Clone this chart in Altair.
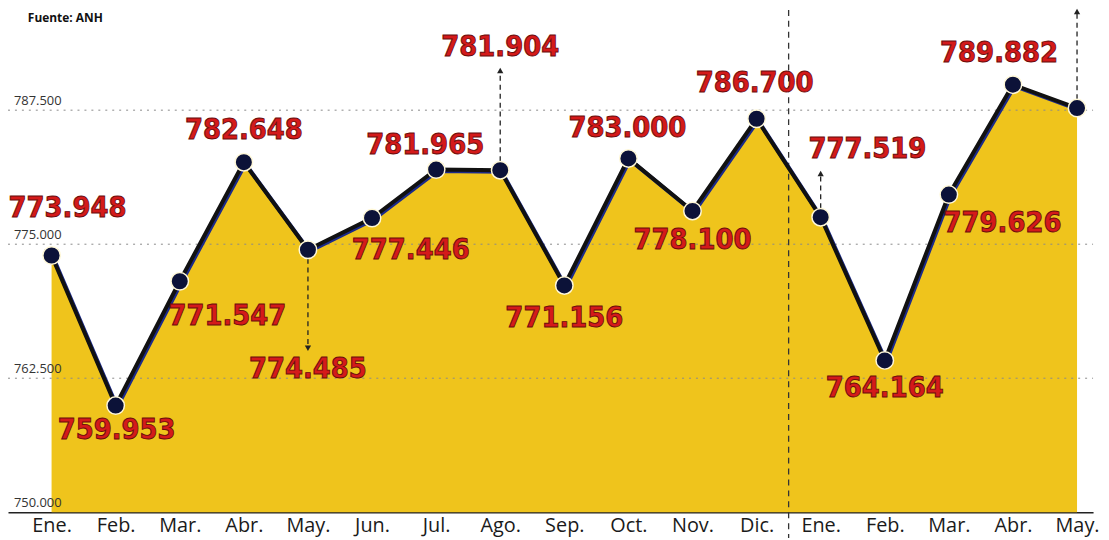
import altair as alt
import pandas as pd

# ---- data ----
months = ["Ene.", "Feb.", "Mar.", "Abr.", "May.", "Jun.", "Jul.", "Ago.", "Sep.",
          "Oct.", "Nov.", "Dic.", "Ene.", "Feb.", "Mar.", "Abr.", "May."]
values = [773948, 759953, 771547, 782648, 774485, 777446, 781965, 781904, 771156,
          783000, 778100, 786700, 777519, 764164, 779626, 789882, 787700]
show_label = [True] * 16 + [False]
grid_values = [750000, 762500, 775000, 787500]

# label placement (pixel offsets from each point)
label_dx = [16, 1, 48, 0, 0, 39, -11, 0, 0, -1, 0, -2, 47, 0, 54, -14, 0]
label_dy = [-48, 25, 35, -32, 120, 32, -25, -124, 33, -31, 29, -36, -69, 28, 29, -32, 0]

# annotation arrows: index, end value
arrow_idx = [4, 7, 12, 16]
arrow_end = [765300, 791200, 781600, 796700]

def fmt(v):
    return f"{v:,}".replace(",", ".")

df = pd.DataFrame({
    "i": list(range(len(values))),
    "mes": months,
    "v": values,
    "lab": [fmt(v) if s else "" for v, s in zip(values, show_label)],
})

grid_df = pd.DataFrame({"g": grid_values, "t": [fmt(g) for g in grid_values]})
arr_df = pd.DataFrame({
    "i": arrow_idx,
    "v0": [values[k] for k in arrow_idx],
    "v1": arrow_end,
    "shape": ["triangle-down" if e < values[k] else "triangle-up" for k, e in zip(arrow_idx, arrow_end)],
})

YMIN, YMAX = 750000, 796850
xscale = alt.Scale(domain=[-0.68, 16.25], nice=False, zero=False)
yscale = alt.Scale(domain=[YMIN, YMAX], nice=False, zero=False)

label_expr = "[" + ",".join(f"'{m}'" for m in months) + "][datum.value]"

X = alt.X("i:Q", scale=xscale,
          axis=alt.Axis(values=list(range(len(months))), labelExpr=label_expr,
                        title=None, ticks=False, grid=False, labelFontSize=20,
                        labelFont="Open Sans", labelColor="#1a1a1a", labelPadding=3,
                        domainColor="#222", domainWidth=1.5, labelFlush=False))
Y = alt.Y("v:Q", scale=yscale, axis=None)

base = alt.Chart(df)

area = base.mark_area(color="#efc41c", opacity=1).encode(
    x=X, y=Y, y2=alt.datum(YMIN))

grid = alt.Chart(grid_df).transform_filter("datum.g > 750000").mark_rule(
    color="#8a8a8a", strokeDash=[2, 5], strokeWidth=1).encode(
    y=alt.Y("g:Q", scale=yscale, axis=None),
    x=alt.value(0), x2=alt.value(1093))

grid_txt = alt.Chart(grid_df).mark_text(
    align="left", baseline="bottom", dy=-2, fontSize=13, font="Open Sans",
    color="#333").encode(
    y=alt.Y("g:Q", scale=yscale, axis=None), x=alt.value(6), text="t:N")

vline = alt.Chart(pd.DataFrame({"s": [11.5]})).mark_rule(
    color="#333", strokeDash=[6, 5], strokeWidth=1.3).encode(
    x=alt.X("s:Q", scale=xscale), y=alt.value(0), y2=alt.value(532))

arrows = alt.Chart(arr_df).mark_rule(
    color="#222", strokeDash=[5, 4], strokeWidth=1.3).encode(
    x=alt.X("i:Q", scale=xscale), y=alt.Y("v0:Q", scale=yscale, axis=None),
    y2="v1:Q")

heads = alt.Chart(arr_df).mark_point(
    filled=True, color="#222", size=40, opacity=1).encode(
    x=alt.X("i:Q", scale=xscale), y=alt.Y("v1:Q", scale=yscale, axis=None),
    shape=alt.Shape("shape:N", scale=None))

shadow = base.mark_line(color="#1b2a8a", strokeWidth=4).encode(
    x=X, y=Y, xOffset=alt.value(1.5), yOffset=alt.value(1.5))
line = base.mark_line(color="#111111", strokeWidth=4).encode(x=X, y=Y)

points = base.mark_circle(size=310, color="#0c1238", opacity=1,
                          stroke="#fff8d8", strokeWidth=1.5).encode(x=X, y=Y)

label_layers = []
for k in range(len(values)):
    if not show_label[k]:
        continue
    label_layers.append(
        base.transform_filter(f"datum.i == {k}").mark_text(
            font="DejaVu Sans Condensed", fontWeight="bold", fontSize=29,
            color="#d41a1a", stroke="#6a0c0c", strokeWidth=0.9,
            align="center", baseline="middle",
            dx=label_dx[k], dy=label_dy[k]).encode(x=X, y=Y, text="lab:N"))

source = alt.Chart(pd.DataFrame({"t": ["Fuente: ANH"]})).mark_text(
    align="left", baseline="middle", fontSize=12, fontWeight="bold",
    font="Open Sans", color="#111").encode(
    x=alt.value(20), y=alt.value(8), text="t:N")

chart = alt.layer(
    area, grid, grid_txt, vline, arrows, heads, shadow, line, points,
    *label_layers, source
).properties(
    width=1093, height=506,
    padding={"left": 0, "top": 0, "right": 8, "bottom": 26},
    autosize=alt.AutoSizeParams(type="none"),
    background="white"
).configure_view(stroke=None)

chart.save("out.html", embed_options={"renderer": "svg", "actions": False})
